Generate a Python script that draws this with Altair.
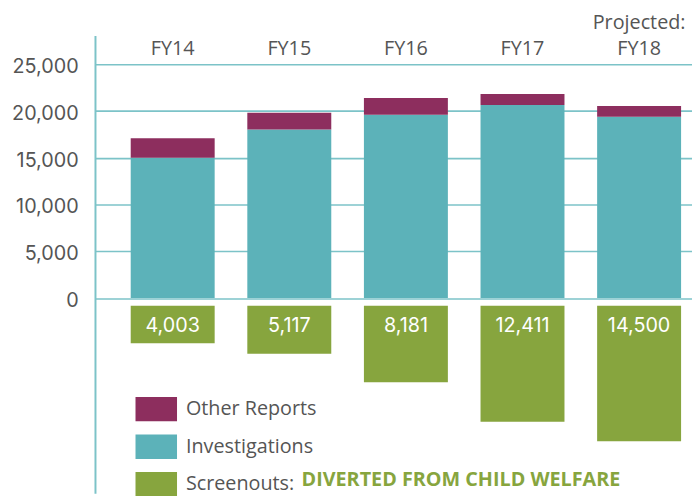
import altair as alt
import pandas as pd

# ---- data ----
years = ["FY14", "FY15", "FY16", "FY17", "FY18"]
investigations = [15000, 18020, 19600, 20660, 19390]
other_reports = [2100, 1800, 1800, 1160, 1160]
screenouts = [4003, 5117, 8181, 12411, 14500]
y_ticks = [0, 5000, 10000, 15000, 20000, 25000]
series = ["Other Reports", "Investigations", "Screenouts"]
colors = ["#8d2e5e", "#5cb2b9", "#87a53e"]
projected_note = ["Projected:"]
projected_year = ["FY18"]
diverted_note = ["DIVERTED FROM CHILD WELFARE"]

# scale layout
Y_MAX = 28090
Y_MIN = -20895
GRID = "#7cc3c8"
TEXT = "#555555"

stack_df = pd.DataFrame({
    "year": years * 2,
    "series": ["Investigations"] * len(years) + ["Other Reports"] * len(years),
    "value": investigations + other_reports,
    "ord": [0] * len(years) + [1] * len(years),
})
screen_df = pd.DataFrame({
    "year": years,
    "series": ["Screenouts"] * len(years),
    "value": screenouts,
    "neg": [-v for v in screenouts],
})
note_df = pd.DataFrame({"year": projected_year, "note": projected_note})
div_df = pd.DataFrame({"note": diverted_note})

x_enc = alt.X(
    "year:N", sort=years, title=None,
    scale=alt.Scale(paddingInner=0.28, paddingOuter=0.2, align=0.766),
    axis=alt.Axis(orient="top", domain=False, ticks=False, tickSize=0,
                  labelAngle=0, labelFont="Open Sans", labelFontSize=20,
                  labelColor=TEXT, labelPadding=0, labelBaseline="alphabetic",
                  offset=-19.5, grid=False),
)
y_axis = alt.Axis(values=y_ticks, format=",", title=None, grid=True,
                  gridColor=GRID, gridWidth=1.6, domain=True, domainColor=GRID,
                  domainWidth=2, ticks=False, tickSize=0, labelPadding=17,
                  labelFont="Inter", labelFontSize=20, labelColor=TEXT,
                  labelOffset=2.5,
                  labelExpr="format(datum.value, ',')")
y_scale = alt.Scale(domain=[Y_MIN, Y_MAX], nice=False, zero=False)

color_enc = alt.Color(
    "series:N",
    scale=alt.Scale(domain=series, range=colors),
    legend=alt.Legend(
        orient="none", legendX=41, legendY=357, title=None,
        symbolType="M-1,-0.588H1V0.588H-1Z", symbolSize=1764,
        symbolStrokeWidth=0, symbolOpacity=1,
        labelFont="Open Sans", labelFontSize=20, labelColor=TEXT,
        labelOffset=9, rowPadding=4, padding=0,
        labelExpr="datum.label == 'Screenouts' ? 'Screenouts:' : datum.label",
    ),
)

stacked = alt.Chart(stack_df).mark_bar().encode(
    x=x_enc,
    y=alt.Y("value:Q", stack="zero", scale=y_scale, axis=y_axis),
    color=color_enc,
    order=alt.Order("ord:Q"),
)

screen = alt.Chart(screen_df).mark_bar(yOffset=8, y2Offset=8).encode(
    x=x_enc,
    y=alt.Y("neg:Q", scale=y_scale, axis=y_axis),
    y2=alt.datum(0),
    color=color_enc,
)

screen_labels = alt.Chart(screen_df).mark_text(
    font="Inter", fontSize=20, color="white", baseline="alphabetic", dy=34
).encode(
    x=x_enc,
    y=alt.YDatum(0, scale=y_scale, axis=y_axis),
    text=alt.Text("value:Q", format=","),
)

projected = alt.Chart(note_df).mark_text(
    font="Open Sans", fontSize=20, color=TEXT, baseline="alphabetic"
).encode(
    x=x_enc,
    y=alt.value(-6.5),
    text="note:N",
)

diverted = alt.Chart(div_df).mark_text(
    font="Open Sans", fontSize=20, fontWeight="bold", color="#87a53e",
    baseline="alphabetic", align="left"
).encode(
    x=alt.value(209),
    y=alt.value(455.5),
    text="note:N",
)

chart = alt.layer(stacked, screen, screen_labels, projected, diverted).properties(
    width=604, height=463,
    autosize=alt.AutoSizeParams(type="none"),
    padding={"left": 88, "top": 25, "right": 0, "bottom": 0},
    background="white",
).configure_view(stroke=None).configure_axisY(format=",")

chart.save("out.html", embed_options={"renderer": "svg", "actions": False})
